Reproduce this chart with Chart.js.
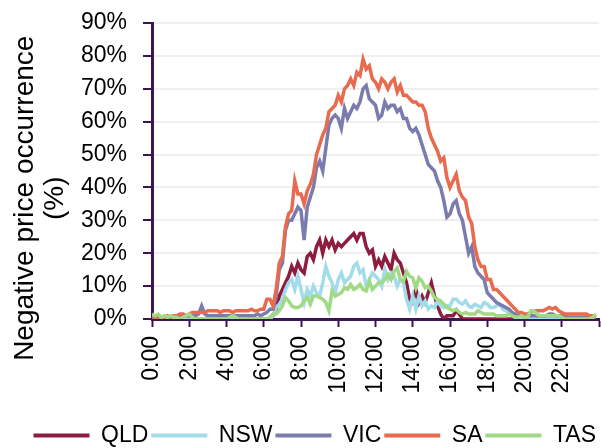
<!DOCTYPE html>
<html>
<head>
<meta charset="utf-8">
<script src="https://cdn.jsdelivr.net/npm/chart.js@4"></script>
<style>
  html, body { margin: 0; padding: 0; background: #ffffff; }
  #wrap { position: relative; width: 602px; height: 448px; }
</style>
</head>
<body>
<div id="wrap"><canvas id="c"></canvas></div>
<script>
// 10-minute intervals across the day (hours)
const times = Array.from({ length: 144 }, (_, i) => i / 6);
const xTickLabels = ['0:00','2:00','4:00','6:00','8:00','10:00','12:00','14:00','16:00','18:00','20:00','22:00'];
const yTickValues = [0,10,20,30,40,50,60,70,80,90];
const seriesNames = ['QLD', 'NSW', 'VIC', 'SA', 'TAS'];

// values in % (6 values per hour)
const qld = [
  0,0,0,0,0,0,  0,0,0,0,0,0,  0,0,0,0,0,0,  0,0,0,0,0,0,  0,0,0,0,0,0,  0,0,0,0,0,0,
  0,0,0,1,3,7,  9,11,13,16,14,17,  15,14,19,20,18,22,  24,20,24,22,24,21,
  23,22,23,24,25,26,  24,26,26,22,20,21,  16,18,16,19,17,15,  20,18,17,14,11,6,
  5,9,5,7,5,8,  11,7,4,1.5,0,1,  1,1,2.5,1.5,0,0,  0,0,0,0,0,0,
  0,0,0,0,0,0,  0,0,0,0,0,0,  0,0,0,0,0,0,  0,0,0,0,0,0,  0,0,0,0,0,0,  0,0,0,0,0,0
];
const nsw = [
  0,0,0,0,0,0,  0,0,0,0,0,0,  0,0,0,0,0,0,  0,0,0,0,0,0,  0,0,0,0,0,0,  0,0,0,0,0,0,
  0,0,0,1,3.5,4.5,  6,9,11,12,9,13,  9,5,9,7,10,8,  7,11,16,13,11,8,
  12,14,11,12,13,16,  17,14,15,10,12,14,  13,12,10,15,12,14,  13,10,12,11,6,3,
  7,3,7,4,5.5,3,  4,3.5,5.5,4,3.5,4,  4,6,6,5,4.5,5.5,  4,3.5,4.5,4,3.5,5,
  4.5,3.5,3.5,4,4.5,3,  2.5,2,1.5,0.5,0,0,  0,0,0.5,0.5,0.5,0,  0,0,0,0,0,0,  0,0,0,0,0,0,  0,0,0,0,0,0
];
const vic = [
  0.5,0.5,0,0,0.5,0.5,  0.5,0.5,0.5,1,1,1,  1,1,1,1.5,4,1.5,  1,1,1,1,1,1,  1,1,1,1,1,1,  1,1,1,1,1.5,1,
  1.5,2,3,3,7,15,  17,27,30,30,32,34,  33,24,34,37,40,46,  48,45,52,59,61,62,
  61,58,64,61,63,65,  64,66,70,71,67,66,  65,61,62,66,64,65,  65,63,64,61,61,58,
  57,58,56,53,50,47,  46,45,42,40,36,31,  32,35,36,32,30,25,  20,22,16,14,13,12,
  8,7,6,5,4.5,4,  3.5,3,2,1.5,1.5,1,  1,1,1,1,1,1,  1,1,1.5,1.5,1,1,  1,1,0.5,0.5,0.5,0.5,  0.5,0.5,0.5,0.5,0.5,0.5
];
const sa = [
  1,0.5,0.5,0,0.5,1,  0.5,1,1,1.5,1.5,1,  1.5,2,2,2,2,2,  2.5,2.5,2.5,2.5,2,2.5,  2.5,2.5,2,2.5,2.5,2.5,  2.5,2.5,3,2.5,2.5,3,
  3,6,6,4,9,17,  19,28,32,33,42,38,  38,35,39,41,44,50,  53,56,58,63,64,65,
  68,66,70,71,73,71,  75,74,79,76,77,73,  72,70,73,72,70,72,  73,69,71,68,68,67,
  66,66,65,65,63,58,  55,53,51,48,49,43,  40,42,44,39,37,36,  31,29,22,18,16,16,
  12,12,9,9,8,7,  6,5,4,3,2,2,  1.5,1.5,2,2.5,2.5,2.5,  2.5,3,3.5,3,3.5,2.5,  2,1.5,1.5,1.5,1.5,1.5,  1.5,1.5,1.5,1,1,0.5
];
const tas = [
  1.5,1,1.5,0.5,1,0.5,  1,0.5,0.5,0,0.5,1,  1.5,0.5,0,0,0,0,  0,0,0,0,0,0,  0,0.5,1,0.5,0,0,  0,0,0,0,0,0,
  0,0,0.5,1.5,1.5,2.5,  4,6.5,5.5,4,3.5,3.5,  4,5.5,6.5,4.5,7,7,  6.5,6,5,2.5,8.5,7,
  7.5,8,9.5,9,10.5,9,  9.5,10.5,9,8.5,11.5,9,  10,11,11,12,13.5,12,  14.5,15.5,12,11.5,14.5,13,
  12.5,9.5,12.5,11.5,9.5,10,  8.5,6.5,6,5.5,4.5,3.5,  3,2.5,3,2,1.5,2,  1.5,1.5,1.5,2.5,2,1.5,
  1.5,1.5,1.5,1,1,1,  1,1.5,1,0.5,0.5,1,  0.5,0.5,2.5,2.5,1.5,1,  1,1,1,1,1,1,  0.5,0,0,0,0,0,  0,0,0,0,0.5,1.5
];

const seriesValues = [qld, nsw, vic, sa, tas];
const seriesColors = ['#8e1c3e', '#a2dbe9', '#7b7cad', '#e86b4f', '#a0da84'];
const drawOrder = [4, 3, 2, 1, 0]; // later series drawn on top
const axisColor = '#3b1452';
const FONT = '"Liberation Sans", Arial, sans-serif';

const datasets = seriesNames.map((name, k) => ({
  label: name,
  data: seriesValues[k].map((v, i) => ({ x: times[i], y: v })),
  borderColor: seriesColors[k],
  backgroundColor: seriesColors[k],
  borderWidth: 3.5,
  pointRadius: 0,
  tension: 0,
  order: drawOrder[k]
}));

const titlePad = '\u00a0'.repeat(7);

new Chart(document.getElementById('c'), {
  type: 'line',
  data: { datasets },
  options: {
    responsive: true,
    maintainAspectRatio: false,
    animation: false,
    events: [],
    layout: { padding: { top: 23, right: 3, left: 0, bottom: -9 } },
    plugins: {
      tooltip: { enabled: false },
      legend: {
        position: 'bottom',
        align: 'end',
        labels: {
          color: '#000',
          font: { family: FONT, size: 23 },
          boxWidth: 56,
          boxHeight: 4,
          padding: 3,
          sort: (a, b) => a.datasetIndex - b.datasetIndex,
          generateLabels: (chart) => Chart.defaults.plugins.legend.labels.generateLabels(chart)
            .map(l => Object.assign(l, { lineWidth: 0 }))
        }
      }
    },
    scales: {
      x: {
        type: 'linear',
        min: 0,
        max: 24,
        afterFit: (s) => { s.height = 102; s.paddingLeft = 0; s.paddingRight = 0; },
        border: { display: true, color: axisColor, width: 3 },
        grid: { drawOnChartArea: false, drawTicks: true, tickLength: 8, tickColor: axisColor, tickWidth: 2 },
        ticks: {
          stepSize: 2,
          autoSkip: false,
          maxRotation: 90,
          minRotation: 90,
          padding: 9,
          color: '#000',
          font: { family: FONT, size: 23 },
          callback: (v) => (v % 2 === 0 && v / 2 < xTickLabels.length) ? xTickLabels[v / 2] : ''
        }
      },
      y: {
        min: 0,
        max: 90,
        afterFit: (s) => { s.width = 152; s.paddingTop = 0; s.paddingBottom = 0; },
        border: { display: true, color: axisColor, width: 3 },
        grid: { color: '#efefef', lineWidth: 2, tickLength: 9, tickColor: axisColor, tickWidth: 2 },
        afterBuildTicks: (s) => { s.ticks = yTickValues.map(v => ({ value: v })); },
        ticks: {
          padding: 16,
          color: '#000',
          font: { family: FONT, size: 23 },
          callback: (v) => v + '%'
        },
        title: {
          display: true,
          text: ['Negative price occurrence' + titlePad, '(%)' + titlePad],
          color: '#000',
          font: { family: FONT, size: 28, lineHeight: 1.07 },
          padding: { top: 10, bottom: 0 }
        }
      }
    }
  }
});
</script>
</body>
</html>
